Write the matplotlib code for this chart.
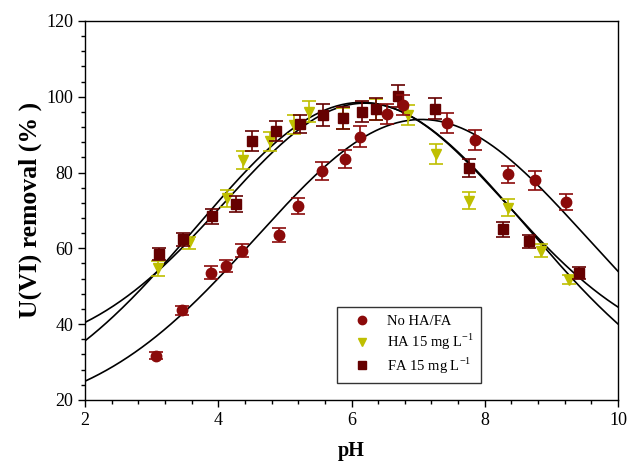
import numpy as np
import matplotlib
matplotlib.use('Agg')
import matplotlib.pyplot as plt
import matplotlib.ticker as ticker

# --- data ---
ph_none = [3.06, 3.46, 3.89, 4.11, 4.36, 4.91, 5.20, 5.55, 5.90, 6.12, 6.53, 6.77, 7.43, 7.85, 8.35, 8.76, 9.22]
rem_none = [31.7, 43.6, 53.6, 55.4, 59.4, 63.5, 71.2, 80.4, 83.6, 89.5, 95.4, 97.8, 93.0, 88.6, 79.5, 77.9, 72.1]
err_none = [1.0, 1.3, 1.7, 1.6, 1.8, 1.9, 2.2, 2.3, 2.4, 2.7, 2.6, 2.6, 2.7, 2.6, 2.3, 2.4, 2.1]

ph_ha = [3.10, 3.56, 4.13, 4.37, 4.78, 5.13, 5.36, 5.87, 6.37, 6.84, 7.27, 7.76, 8.35, 8.84, 9.26]
rem_ha = [54.7, 61.3, 73.2, 83.3, 88.2, 92.6, 96.1, 94.3, 96.6, 95.2, 84.9, 72.6, 70.7, 59.4, 51.7]
err_ha = [2.0, 1.6, 2.2, 2.5, 2.4, 2.5, 2.8, 2.8, 2.8, 2.6, 2.7, 2.2, 2.2, 1.7, 1.2]

ph_fa = [3.11, 3.47, 3.91, 4.26, 4.51, 4.86, 5.23, 5.57, 5.87, 6.16, 6.37, 6.69, 7.25, 7.76, 8.27, 8.67, 9.42]
rem_fa = [58.5, 62.4, 68.4, 71.7, 88.4, 91.0, 92.8, 95.2, 94.5, 96.1, 96.8, 100.2, 96.8, 81.1, 65.0, 61.8, 53.4]
err_fa = [1.6, 1.7, 2.0, 2.0, 2.6, 2.7, 2.5, 2.9, 2.9, 2.9, 2.9, 2.8, 2.8, 2.4, 1.9, 1.7, 1.6]

# gaussian fit parameters (y0, a, x0, b)
fit_none = (15.0, 79.0, 7.05, 2.48)
fit_ha = (15.0, 83.5, 6.15, 2.48)
fit_fa = (31.0, 67.3, 6.2, 2.12)

c_none = '#8b0a0a'
c_ha = '#bfbf00'
c_fa = '#650000'

plt.rcParams['font.family'] = ['Liberation Serif', 'DejaVu Serif']
plt.rcParams['mathtext.fontset'] = 'custom'
plt.rcParams['mathtext.rm'] = 'Liberation Serif'

fig = plt.figure(figsize=(6.3, 4.65), dpi=100)
ax = fig.add_axes([0.135, 0.140, 0.846, 0.815])

xs = np.linspace(2, 10, 300)
for y0, a, x0, b in [fit_none, fit_ha, fit_fa]:
    ax.plot(xs, y0 + a * np.exp(-0.5 * ((xs - x0) / b) ** 2), color='black', linewidth=1.2, zorder=2)

ax.errorbar(ph_ha, rem_ha, yerr=err_ha, fmt='v', color=c_ha, ecolor=c_ha, markersize=7.5,
            capsize=5, elinewidth=1.2, capthick=1.2, label='HA 15 mg L$^{-1}$', zorder=3)
ax.errorbar(ph_fa, rem_fa, yerr=err_fa, fmt='s', color=c_fa, ecolor=c_fa, markersize=7.5,
            capsize=5, elinewidth=1.2, capthick=1.2, label='FA 15 mg L$^{-1}$', zorder=4)
ax.errorbar(ph_none, rem_none, yerr=err_none, fmt='o', color=c_none, ecolor=c_none, markersize=7.5,
            capsize=5, elinewidth=1.2, capthick=1.2, label='No HA/FA', zorder=5)

ax.set_xlim(2, 10)
ax.set_ylim(20, 120)
ax.xaxis.set_major_locator(ticker.MultipleLocator(2))
ax.xaxis.set_minor_locator(ticker.MultipleLocator(0.4))
ax.yaxis.set_major_locator(ticker.MultipleLocator(20))
ax.yaxis.set_minor_locator(ticker.MultipleLocator(4))
ax.tick_params(which='both', direction='out', top=False, right=False, labelsize=13, width=1)
ax.tick_params(which='major', length=5)
ax.tick_params(which='minor', length=3)
for s in ax.spines.values():
    s.set_linewidth(1)

ax.set_xlabel('pH', fontsize=14.5, fontweight='bold', labelpad=9)
ax.set_ylabel('U(VI) removal (% )', fontsize=18.5, fontweight='bold', labelpad=3)

h, l = ax.get_legend_handles_labels()
order = [2, 0, 1]
leg = ax.legend([h[i][0] for i in order], [l[i] for i in order], loc='lower left',
                bbox_to_anchor=(0.473, 0.045), fontsize=10.5, frameon=True, fancybox=False,
                edgecolor='black', handlelength=2.4, handletextpad=0.5, borderpad=0.5,
                borderaxespad=0, labelspacing=0.25, markerscale=0.8)
leg.get_frame().set_linewidth(1)

fig.savefig('out.png', dpi=100)
